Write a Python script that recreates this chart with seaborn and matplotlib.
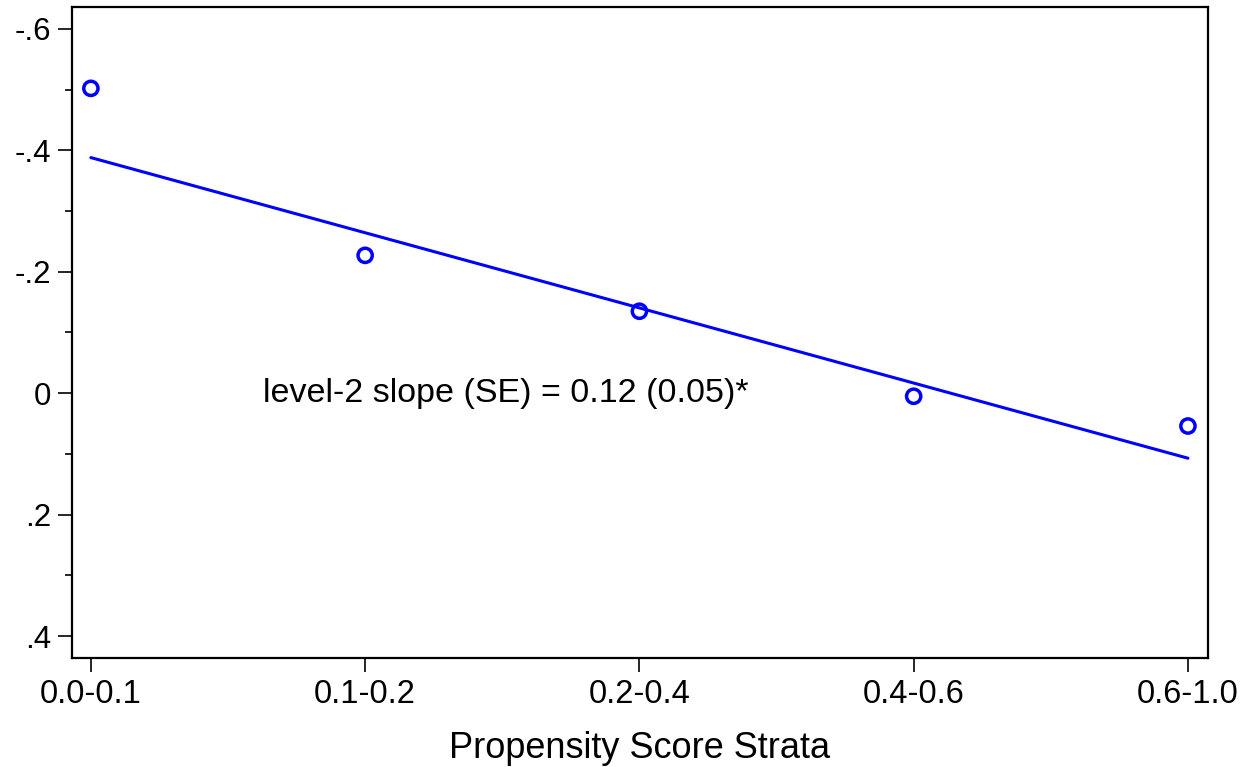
import matplotlib
matplotlib.use("Agg")
import matplotlib.pyplot as plt
import seaborn as sns
import pandas as pd
from matplotlib.ticker import MultipleLocator, FixedLocator

sns.set_theme(style="white")
plt.rcParams['font.family'] = ['Liberation Sans', 'DejaVu Sans']

# Data
strata = ["0.0-0.1", "0.1-0.2", "0.2-0.4", "0.4-0.6", "0.6-1.0"]
effects = [-0.502, -0.227, -0.135, 0.005, 0.054]
fit_x = [0, 4]
fit_y = [-0.388, 0.107]
y_ticks = [-0.6, -0.4, -0.2, 0.0, 0.2, 0.4]
y_tick_labels = ["-.6", "-.4", "-.2", "0", ".2", ".4"]
annotation = "level-2 slope (SE) = 0.12 (0.05)*"

df = pd.DataFrame({"x": range(len(strata)), "y": effects})
fit = pd.DataFrame({"x": fit_x, "y": fit_y})

fig = plt.figure(figsize=(12.47, 7.67), dpi=100)
ax = fig.add_axes([0.0577, 0.1421, 0.9110, 0.8488])

sns.lineplot(data=fit, x="x", y="y", ax=ax, color="#0000ff", linewidth=2.2)
sns.scatterplot(data=df, x="x", y="y", ax=ax, marker="o", s=105,
                facecolors="none", edgecolor="#0000ff", linewidth=2.5, zorder=3)

ax.set_xlim(-0.069, 4.073)
ax.set_ylim(0.436, -0.636)

ax.set_xticks(range(len(strata)))
ax.set_xticklabels(strata, fontsize=23.5)
ax.yaxis.set_major_locator(FixedLocator(y_ticks))
ax.set_yticklabels(y_tick_labels, fontsize=22.5)
ax.yaxis.set_minor_locator(MultipleLocator(0.1))

ax.tick_params(axis="both", which="major", direction="out", length=10, width=1.2,
               color="black", labelcolor="black", left=True, bottom=True, pad=5)
ax.tick_params(axis="y", which="minor", direction="out", length=5, width=1.2,
               color="black", left=True)

for sp in ax.spines.values():
    sp.set_color("black")
    sp.set_linewidth(1.6)

ax.set_xlabel("Propensity Score Strata", fontsize=26, color="black", labelpad=15)
ax.set_ylabel("")

ax.text(0.627, 0.0, annotation, fontsize=24.5, color="black", va="center", ha="left")

fig.savefig("out.png", dpi=100)
